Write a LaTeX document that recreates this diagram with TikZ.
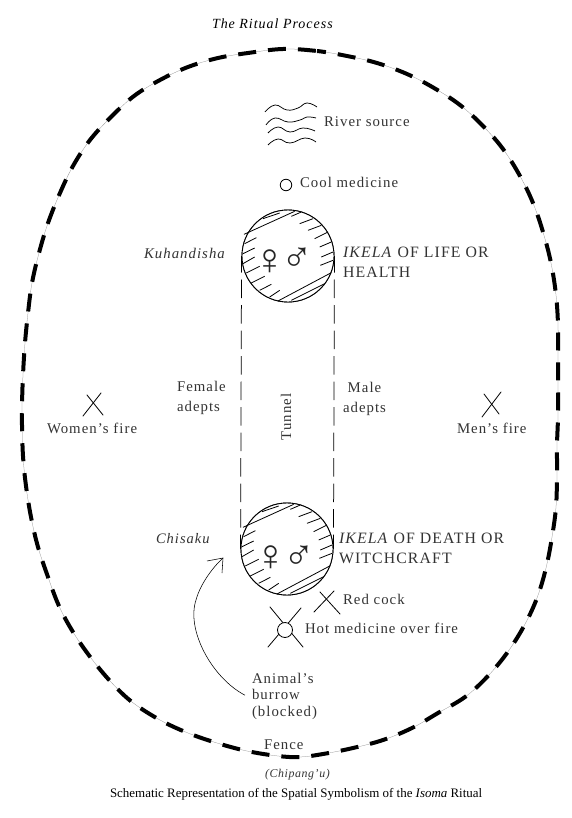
\documentclass[tikz,border=0pt]{standalone}
\usepackage{fontspec}
\setmainfont{Liberation Serif}
\newfontfamily\symfont{Liberation Serif}
\newcommand{\sz}[1]{\fontsize{#1}{#1}\selectfont}
\newcommand{\lab}{\fontsize{14.8}{20}\selectfont\addfontfeatures{LetterSpace=7}}
\newcommand{\capl}{\fontsize{15.8}{20.5}\selectfont\addfontfeatures{LetterSpace=7}}
\usetikzlibrary{arrows.meta}
\tikzset{
  x=1pt,y=-1pt,
  txt/.style={inner sep=0pt,outer sep=0pt,anchor=base west,font=\lab,text=black!80},
  two/.style={inner sep=0pt,outer sep=0pt,anchor=north west,align=left,font=\lab,text=black!80},
  sign/.style={inner sep=0pt,anchor=center,text=black!85},
  ring/.style={circle,draw=black,line width=0.9pt,minimum size=92pt,inner sep=0pt,fill=white},
  spot/.style={circle,draw=black,line width=0.8pt,inner sep=0pt,fill=white},
  ink/.style={line width=0.8pt,line cap=round,black},
  wave/.style={line width=0.75pt,black},
  tunnelline/.style={line width=0.75pt,black,dash pattern=on 18.5pt off 7pt},
  fencefat/.style={line width=4pt,black,dash pattern=on 18pt off 12pt},
  fencethin/.style={line width=0.25pt,black!45}
}
\newcommand{\hatchmarks}[1]{%
\begin{scope}[shift={(#1)},x=0.3333pt,y=-0.3333pt,line width=0.8pt]
 \foreach \a/\b/\c/\d in {-132/-65/20/-134,-75/-112/-25/-129,
   -130/-37/-95/-55,-135/-7/-100/-24,-135/23/-100/3,-125/51/-85/31,-110/81/-70/61,-85/103/-50/85,-55/123/-25/103,
   10/-119/40/-132,35/-97/75/-112,60/-77/100/-92,80/-52/120/-72,95/-27/130/-42,100/3/135/-12,97/28/135/13,
   -30/135/130/50,10/133/110/83}
 {\draw (\a,\b) -- (\c,\d);}
\end{scope}}
\begin{document}
\begin{tikzpicture}
\useasboundingbox (0,0) rectangle (572,818);
\fill[white] (0,0) rectangle (572,818);
% fence
\def\fencepts{(283,49)(317,51)(347,56)(377,63)(407,74)(434,88)(460,105)(483,126)(503,149)(520,176)(533,203)(543,232)(551,263)(556,295)(558,325)(558,356)(558,387)(558,417)(557,445)(557,475)(556,507)(552,537)(546,568)(537,598)(524,626)(507,653)(487,677)(465,697)(438,713)(412,728)(383,740)(353,748)(323,754)(300,757)(278,756)(247,751)(217,743)(188,733)(160,720)(132,702)(111,682)(91,658)(73,632)(59,606)(48,577)(38,547)(31,517)(26,486)(23,456)(22,425)(22,405)(23,375)(25,343)(28,313)(32,283)(39,253)(48,223)(60,193)(73,166)(90,140)(111,117)(134,96)(160,80)(188,67)(218,58)(248,53)}
\draw[fencethin] plot[smooth cycle,tension=0.6] coordinates {\fencepts};
\draw[fencefat,dash phase=9pt] plot[smooth cycle,tension=0.6] coordinates {\fencepts};
% tunnel rings
\node[ring] (kuh) at (288,256) {};
\node[ring] (chi) at (287,549) {};
\draw[tunnelline,dash phase=2pt] (kuh.west) -- (chi.west);
\draw[tunnelline,dash phase=2pt] (kuh.east) -- (chi.east);
\node[ring] (kuh) at (288,256) {};
\node[ring] (chi) at (287,549) {};
\hatchmarks{kuh.center}
\hatchmarks{chi.center}
\node[sign,font=\symfont\sz{44}] (fa) at (270,262) {♀};
\node[sign,font=\symfont\sz{42}] (ma) at (297,260) {♂};
\node[sign,font=\symfont\sz{44}] (fb) at (271,558) {♀};
\node[sign,font=\symfont\sz{42}] (mb) at (299,558) {♂};
% river
\draw[wave] plot[smooth,tension=0.8] coordinates {(265,112)(275,105)(287,110)(298,108)(307,103)(317,107)};
\draw[wave] plot[smooth,tension=0.8] coordinates {(266,125)(275,118)(288,122)(300,120)(307,117)(316,118)};
\draw[wave] plot[smooth,tension=0.8] coordinates {(268,133)(278,127)(290,132)(303,128)(315,131)};
\draw[wave] plot[smooth,tension=0.8] coordinates {(268,145)(278,139)(290,143)(305,138)(316,142)};
% cool medicine
\node[spot,minimum size=11.5pt] (cool) at (286,185) {};
% fires
\coordinate (wa) at (87,395); \coordinate (wb) at (103,415); \coordinate (wc) at (101,393); \coordinate (wd) at (83,416);
\draw[ink] (wa) -- (wb); \draw[ink] (wc) -- (wd);
\coordinate (ma1) at (484,394); \coordinate (mb1) at (499,414); \coordinate (mc1) at (501,392); \coordinate (md1) at (482,417);
\draw[ink] (ma1) -- (mb1); \draw[ink] (mc1) -- (md1);
\coordinate (ra) at (320,592); \coordinate (rb) at (340,614); \coordinate (rc) at (334,591); \coordinate (rd) at (314,612);
\draw[ink] (ra) -- (rb); \draw[ink] (rc) -- (rd);
\coordinate (ha) at (270,607); \coordinate (hb) at (303,647); \coordinate (hc) at (301,608); \coordinate (hd) at (268,647);
\draw[ink] (ha) -- (hb); \draw[ink] (hc) -- (hd);
\node[spot,minimum size=15pt] (hot) at (285,630) {};
% labels
\node[txt,font=\fontsize{14}{14}\selectfont\itshape\addfontfeatures{LetterSpace=7},text=black] (title) at (212,29) {The Ritual Process};
\node[txt] (river) at (324,127) {River source};
\node[txt] (coolt) at (300,188) {Cool medicine};
\node[txt,font=\lab\itshape] (kuht) at (144,258) {Kuhandisha};
\node[two,font=\capl] (life) at (343,247) {\textit{IKELA} OF LIFE OR\\HEALTH};
\node[two] (fem) at (177,381) {Female\\adepts};
\node[two,align=center] (mal) at (343,382) {Male\\adepts};
\node[txt,rotate=90] (tun) at (291,440) {Tunnel};
\node[txt] (wf) at (47,433) {Women's fire};
\node[txt] (mf) at (457,433) {Men's fire};
\node[txt,font=\fontsize{14.5}{14.5}\selectfont\itshape\addfontfeatures{LetterSpace=7}] (chit) at (156,543) {Chisaku};
\node[two,font=\capl] (death) at (339,533) {\textit{IKELA} OF DEATH OR\\WITCHCRAFT};
\node[txt] (red) at (343,604) {Red cock};
\node[txt] (hott) at (305,633) {Hot medicine over fire};
\node[two,font=\fontsize{14.8}{16.5}\selectfont\addfontfeatures{LetterSpace=7}] (bur) at (252,673) {Animal's\\burrow\\(blocked)};
\node[txt] (fence) at (264,749) {Fence};
\node[txt,font=\fontsize{11.9}{11.9}\selectfont\itshape\addfontfeatures{LetterSpace=5}] (chip) at (265,777) {(Chipang'u)};
\node[txt,font=\fontsize{12.95}{12.95}\selectfont,text=black] (capt) at (110,797) {Schematic Representation of the Spatial Symbolism of the \textit{Isoma} Ritual};
% burrow arrow
\coordinate (tip) at (223,558);
\coordinate (barba) at (207,561);
\coordinate (barbb) at (222,573);
\draw[line width=0.55pt,black] ([xshift=-7pt,yshift=1pt]bur.west) .. controls (212,678) and (186,630) .. (196,600) .. controls (200,585) and (212,568) .. (tip);
\draw[line width=0.55pt,black] (barba) -- (tip) -- (barbb);
\end{tikzpicture}
\end{document}
